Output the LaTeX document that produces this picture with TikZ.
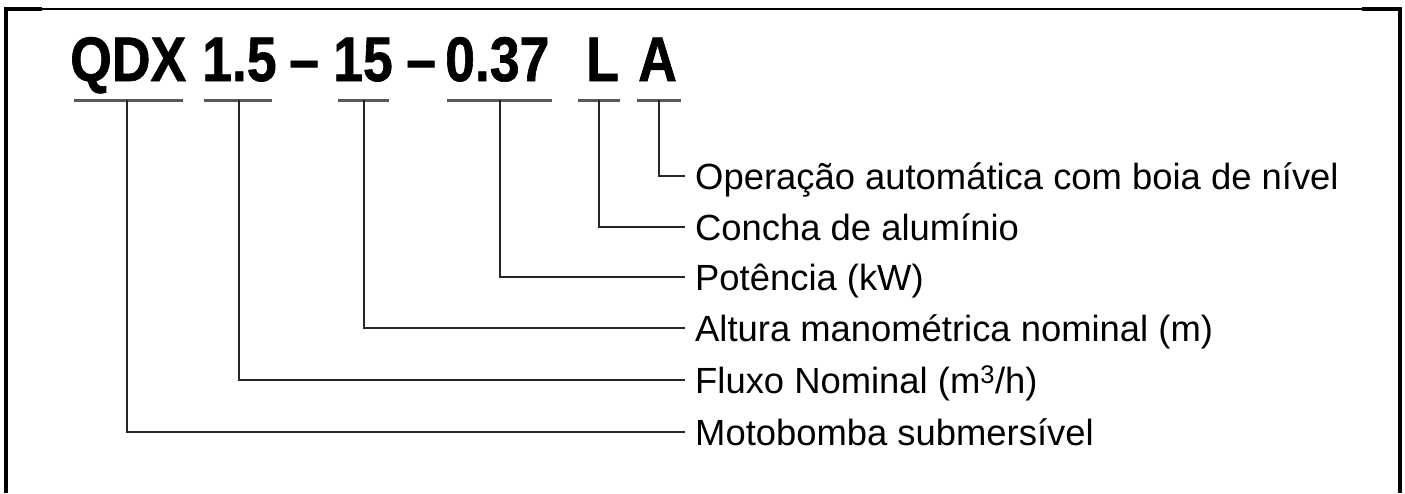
\documentclass[tikz,border=0pt]{standalone}
\usepackage{fontspec}
\setmainfont{Liberation Sans}
\newfontface\codefont[FakeStretch=0.85, FakeBold=1]{Liberation Sans Bold}
\usepackage{tikz}
\tikzset{
    code-part/.style = {font=\codefont\fontsize{63}{63}\selectfont, inner sep=0pt, anchor=base west},
    code-label/.style = {font=\fontsize{36.4}{36.4}\selectfont, inner xsep=10pt, inner ysep=0pt, text height=26pt, text depth=0pt, anchor=west},
    code-rule/.style = {draw=black!65, line width=3pt},
    code-link/.style = {draw=black!85, line width=2pt},
    frame-thick/.style = {line width=3.5pt},
}

\begin{document}
\begin{tikzpicture}[x=1pt, y=-1pt]
\useasboundingbox (0,0) rectangle (1405,493);
% open frame
\draw[frame-thick] (6,493) -- (6,9) -- (42,9);
\draw[line width=2pt] (42,8.5) -- (1362,8.5);
\draw[frame-thick] (1362,9) -- (1400,9) -- (1400,493);

% type code
\node[code-part] (qdx) at (70,81) {QDX};
\node[code-part] (flow) at (202,81) {1.5};
\node[code-part] (dash1) at (289,81) {–};
\node[code-part] (head) at (333,81) {15};
\node[code-part] (dash2) at (406,81) {–};
\node[code-part] (power) at (445,81) {0.37};
\node[code-part] (shell) at (586,81) {L};
\node[code-part] (auto) at (638,81) {A};

% short rules under each part
\foreach \from/\to in {74/183, 204/272, 338/389, 447/552, 578/620, 637/681}
    \draw[code-rule] (\from,100) -- (\to,100);

\coordinate (qdx-drop) at (127,100);
\coordinate (flow-drop) at (239,100);
\coordinate (head-drop) at (364,100);
\coordinate (power-drop) at (500,100);
\coordinate (shell-drop) at (599,100);
\coordinate (auto-drop) at (659,100);

% meanings
\node[code-label] (auto-label) at (685,176) {Operação automática com boia de nível};
\node[code-label] (shell-label) at (685,227) {Concha de alumínio};
\node[code-label] (power-label) at (685,277) {Potência (kW)};
\node[code-label] (head-label) at (685,328) {Altura manométrica nominal (m)};
\node[code-label] (flow-label) at (685,380) {Fluxo Nominal (m\textsuperscript{3}/h)};
\node[code-label] (qdx-label) at (685,432) {Motobomba submersível};

\draw[code-link] (auto-drop) |- (auto-label.west);
\draw[code-link] (shell-drop) |- (shell-label.west);
\draw[code-link] (power-drop) |- (power-label.west);
\draw[code-link] (head-drop) |- (head-label.west);
\draw[code-link] (flow-drop) |- (flow-label.west);
\draw[code-link] (qdx-drop) |- (qdx-label.west);
\end{tikzpicture}
\end{document}
